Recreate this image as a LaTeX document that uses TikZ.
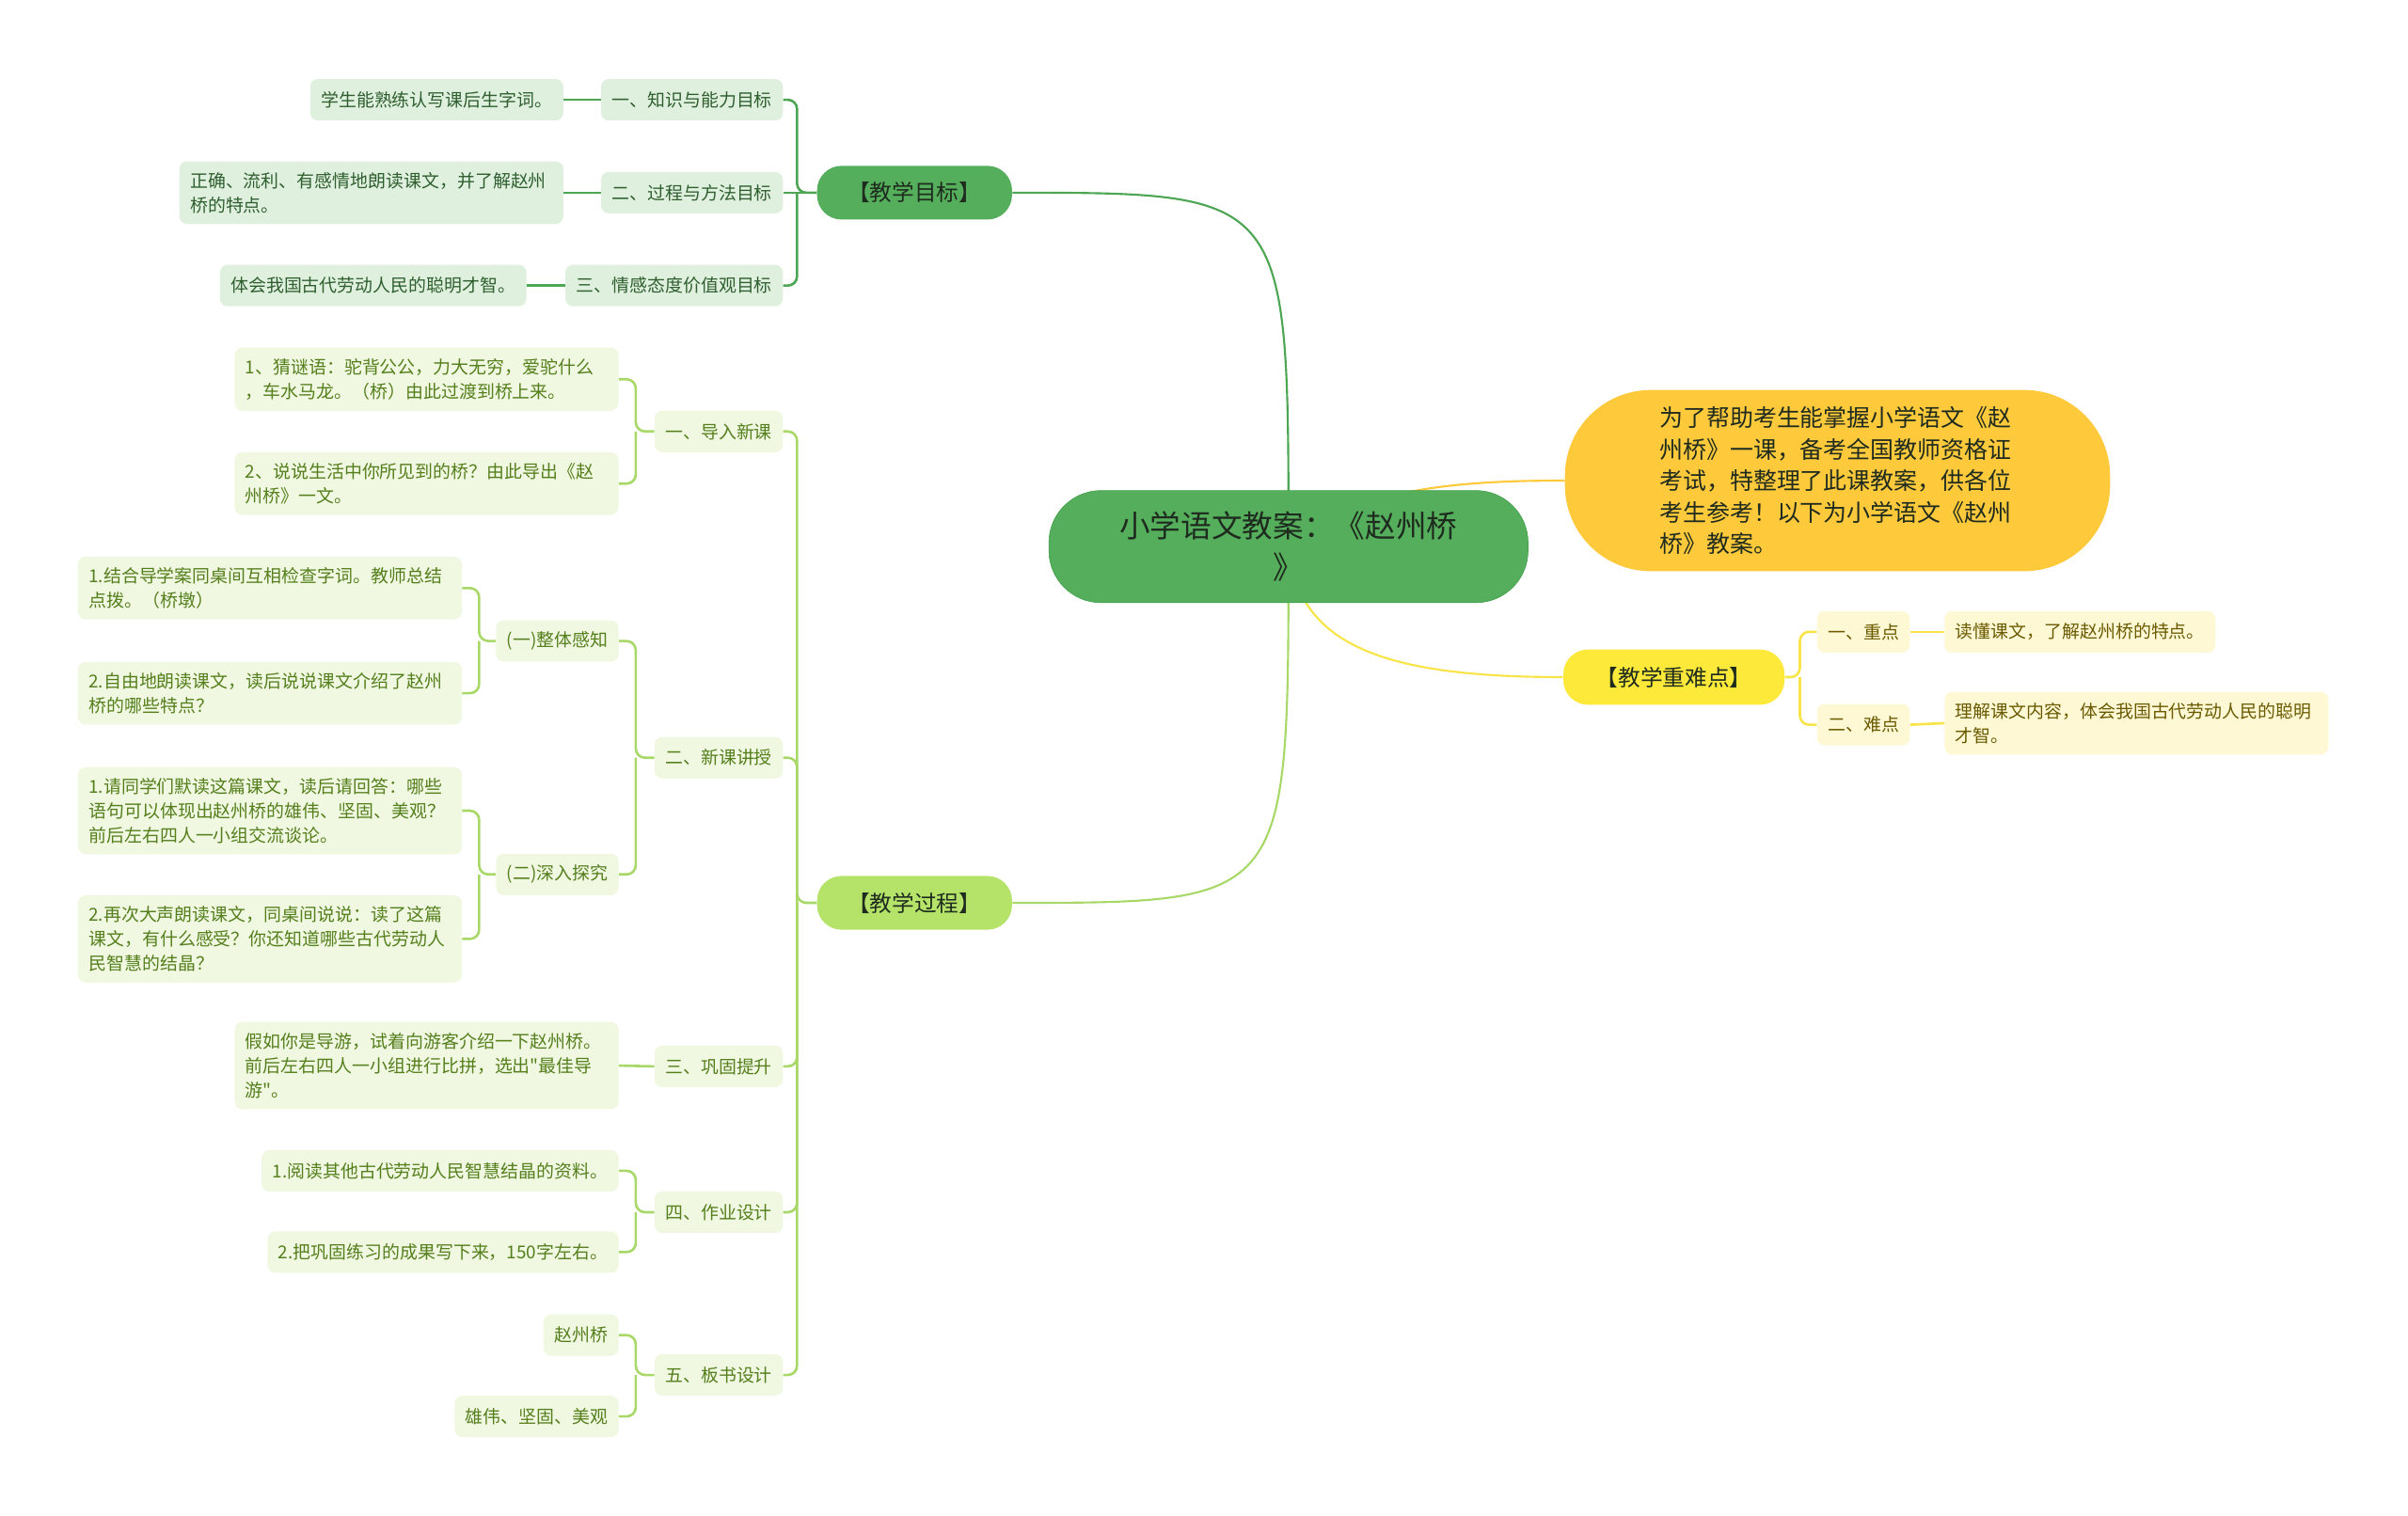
\documentclass[tikz,border=0pt]{standalone}
\usepackage{fontspec}
\setmainfont{Noto Sans CJK SC}[Ligatures=TeXOff]
\usetikzlibrary{backgrounds}
\definecolor{cRoot}{HTML}{54AE5B}
\definecolor{cRootEdge}{HTML}{45A04D}
\definecolor{cDark}{HTML}{1E2B1E}
\definecolor{cIntro}{HTML}{FFC93C}
\definecolor{cKey}{HTML}{FCE93A}
\definecolor{cProc}{HTML}{B5E36A}
\definecolor{cGoalLine}{HTML}{4CA653}
\definecolor{cProcLine}{HTML}{A8D968}
\definecolor{cKeyLine}{HTML}{F8E447}
\definecolor{cGoalPale}{HTML}{DFF0DE}
\definecolor{cGoalText}{HTML}{2F5F2F}
\definecolor{cProcPale}{HTML}{F0F8E1}
\definecolor{cProcText}{HTML}{557F1C}
\definecolor{cKeyPale}{HTML}{FFF8D5}
\definecolor{cKeyText}{HTML}{6A5A00}
\tikzset{
    every node/.style={align=center,inner sep=0pt,},
    rootbox/.style={draw=cRootEdge,fill=cRoot,text=cDark,rounded corners=34pt,minimum width=312pt,minimum height=73pt,font=\fontsize{20}{27}\selectfont,},
    introbox/.style={fill=cIntro,text=cDark,rounded corners=56pt,minimum width=355pt,minimum height=118pt,text width=232pt,align=left,font=\fontsize{15.3}{20.5}\selectfont,},
    topic/.style={text=cDark,rounded corners=16pt,minimum width=127pt,minimum height=35pt,font=\fontsize{14.5}{18}\selectfont,},
    item/.style={rounded corners=5pt,inner xsep=7pt,inner ysep=7pt,minimum height=27pt,font=\fontsize{11.6}{16}\selectfont,},
    goalitem/.style={item,fill=cGoalPale,text=cGoalText,anchor=east,},
    procitem/.style={item,fill=cProcPale,text=cProcText,anchor=east,},
    keyitem/.style={item,fill=cKeyPale,text=cKeyText,anchor=west,},
    wide/.style={text width=236pt,align=left,},
    goalwire/.style={draw=cGoalLine,line width=1.6pt,rounded corners=6pt,},
    procwire/.style={draw=cProcLine,line width=1.6pt,rounded corners=6pt,},
    keywire/.style={draw=cKeyLine,line width=1.6pt,rounded corners=6pt,},
}

\begin{document}
\begin{tikzpicture}[x=1pt,y=-1pt]
    \useasboundingbox (0,0) rectangle (1568,987);

    \node[rootbox] (root) at (839,356) {小学语文教案：《赵州桥\\》};
    \node[introbox] (intro) at (1196.5,313) {为了帮助考生能掌握小学语文《赵\\州桥》一课，备考全国教师资格证\\考试，特整理了此课教案，供各位\\考生参考！以下为小学语文《赵州\\桥》教案。};

    \node[topic,fill=cRoot] (goal) at (595.5,125.5) {【教学目标】};
    \node[topic,fill=cProc] (proc) at (595.5,588) {【教学过程】};
    \node[topic,fill=cKey,minimum width=144pt,minimum height=36pt] (keypt) at (1090,441) {【教学重难点】};

    \node[goalitem] (g1) at (510,65) {一、知识与能力目标};
    \node[goalitem] (g2) at (510,125.5) {二、过程与方法目标};
    \node[goalitem] (g3) at (510,186) {三、情感态度价值观目标};
    \node[goalitem] (g1a) at (367,65) {学生能熟练认写课后生字词。};
    \node[goalitem,wide] (g2a) at (367,125.5) {正确、流利、有感情地朗读课文，并了解赵州\\桥的特点。};
    \node[goalitem] (g3a) at (343,186) {体会我国古代劳动人民的聪明才智。};

    \node[keyitem] (k1) at (1183,411.5) {一、重点};
    \node[keyitem] (k2) at (1183,472) {二、难点};
    \node[keyitem] (k1a) at (1266,411.5) {读懂课文，了解赵州桥的特点。};
    \node[keyitem,wide] (k2a) at (1266,471) {理解课文内容，体会我国古代劳动人民的聪明\\才智。};

    \node[procitem] (p1) at (510,281) {一、导入新课};
    \node[procitem] (p2) at (510,493.5) {二、新课讲授};
    \node[procitem] (p3) at (510,694.5) {三、巩固提升};
    \node[procitem] (p4) at (510,789.5) {四、作业设计};
    \node[procitem] (p5) at (510,895.5) {五、板书设计};

    \node[procitem,wide] (p1a) at (403,247) {1、猜谜语：驼背公公，力大无穷，爱驼什么\\，车水马龙。（桥）由此过渡到桥上来。};
    \node[procitem,wide] (p1b) at (403,315) {2、说说生活中你所见到的桥？由此导出《赵\\州桥》一文。};

    \node[procitem] (p2a) at (403,417.5) {(一)整体感知};
    \node[procitem] (p2b) at (403,569.5) {(二)深入探究};
    \node[procitem,wide] (p2a1) at (301,383) {1.结合导学案同桌间互相检查字词。教师总结\\点拨。（桥墩）};
    \node[procitem,wide] (p2a2) at (301,451.5) {2.自由地朗读课文，读后说说课文介绍了赵州\\桥的哪些特点？};
    \node[procitem,wide] (p2b1) at (301,528) {1.请同学们默读这篇课文，读后请回答：哪些\\语句可以体现出赵州桥的雄伟、坚固、美观？\\前后左右四人一小组交流谈论。};
    \node[procitem,wide] (p2b2) at (301,611.5) {2.再次大声朗读课文，同桌间说说：读了这篇\\课文，有什么感受？你还知道哪些古代劳动人\\民智慧的结晶？};

    \node[procitem,wide] (p3a) at (403,694) {假如你是导游，试着向游客介绍一下赵州桥。\\前后左右四人一小组进行比拼，选出"最佳导\\游"。};

    \node[procitem] (p4a) at (403,762.5) {1.阅读其他古代劳动人民智慧结晶的资料。};
    \node[procitem] (p4b) at (403,815.5) {2.把巩固练习的成果写下来，150字左右。};

    \node[procitem] (p5a) at (403,869.5) {赵州桥};
    \node[procitem] (p5b) at (403,922.5) {雄伟、坚固、美观};

    \coordinate (goalfork) at (519,125.5);
    \coordinate (procfork) at (519,588);
    \coordinate (keyfork) at (1172,441);
    \coordinate (p1fork) at (414,281);
    \coordinate (p2fork) at (414,493.5);
    \coordinate (p4fork) at (414,789.5);
    \coordinate (p5fork) at (414,895.5);
    \coordinate (p2afork) at (312,417.5);
    \coordinate (p2bfork) at (312,569.5);

    \begin{pgfonlayer}{background}
        \draw[draw=cGoalLine,line width=1.3pt] (root.center) .. controls (839,125.5) .. (goal.east);
        \draw[draw=cProcLine,line width=1.3pt] (root.center) .. controls (839,588) .. (proc.east);
        \draw[draw=cIntro,line width=1.3pt] (root.center) .. controls (880,316) and (960,313) .. (intro.west);
        \draw[draw=cKeyLine,line width=1.3pt] (root.center) .. controls (845,420) and (900,441) .. (keypt.west);
    \end{pgfonlayer}

    \draw[goalwire] (goal.west) -- (goalfork) |- (g1.east);
    \draw[goalwire] (goal.west) -- (g2.east);
    \draw[goalwire] (goalfork) |- (g3.east);
    \draw[goalwire] (g1.west) -- (g1a.east);
    \draw[goalwire] (g2.west) -- (g2a.east);
    \draw[goalwire] (g3.west) -- (g3a.east);

    \draw[keywire] (keypt.east) -- (keyfork) |- (k1.west);
    \draw[keywire] (keyfork) |- (k2.west);
    \draw[keywire] (k1.east) -- (k1a.west);
    \draw[keywire] (k2.east) -- (k2a.west);

    \draw[procwire] (proc.west) -- (procfork) |- (p1.east);
    \draw[procwire] (procfork) |- (p2.east);
    \draw[procwire] (procfork) |- (p3.east);
    \draw[procwire] (procfork) |- (p4.east);
    \draw[procwire] (procfork) |- (p5.east);

    \draw[procwire] (p1.west) -- (p1fork) |- (p1a.east);
    \draw[procwire] (p1fork) |- (p1b.east);
    \draw[procwire] (p2.west) -- (p2fork) |- (p2a.east);
    \draw[procwire] (p2fork) |- (p2b.east);
    \draw[procwire] (p2a.west) -- (p2afork) |- (p2a1.east);
    \draw[procwire] (p2afork) |- (p2a2.east);
    \draw[procwire] (p2b.west) -- (p2bfork) |- (p2b1.east);
    \draw[procwire] (p2bfork) |- (p2b2.east);
    \draw[procwire] (p3.west) -- (p3a.east);
    \draw[procwire] (p4.west) -- (p4fork) |- (p4a.east);
    \draw[procwire] (p4fork) |- (p4b.east);
    \draw[procwire] (p5.west) -- (p5fork) |- (p5a.east);
    \draw[procwire] (p5fork) |- (p5b.east);
\end{tikzpicture}
\end{document}
